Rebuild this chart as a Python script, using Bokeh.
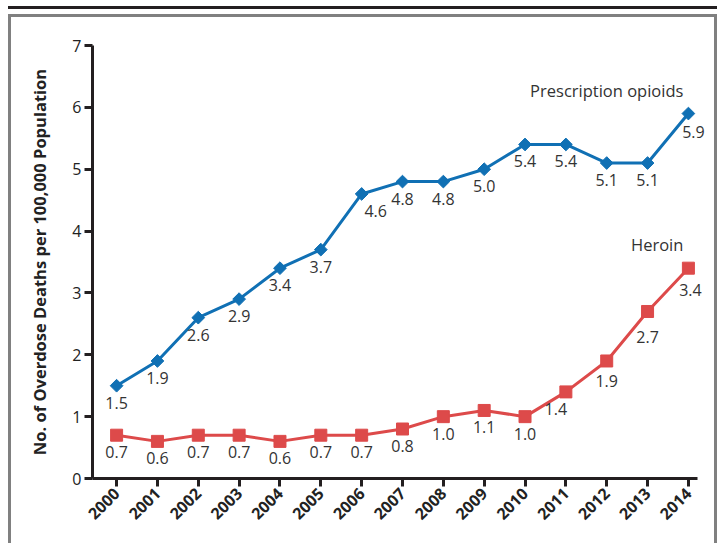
import math
from bokeh.plotting import figure
from bokeh.layouts import column
from bokeh.models import ColumnDataSource, FixedTicker, Label, LabelSet, Range1d
from bokeh.embed import file_html
from bokeh.resources import INLINE
from bokeh.core.properties import value

years = list(range(2000, 2015))
rx_opioids = [1.5, 1.9, 2.6, 2.9, 3.4, 3.7, 4.6, 4.8, 4.8, 5.0, 5.4, 5.4, 5.1, 5.1, 5.9]
heroin = [0.7, 0.6, 0.7, 0.7, 0.6, 0.7, 0.7, 0.8, 1.0, 1.1, 1.0, 1.4, 1.9, 2.7, 3.4]
y_ticks = [0, 1, 2, 3, 4, 5, 6, 7]

BLUE = "#1070b4"
RED = "#dd4a4a"
TXT = "#333333"
FONT = "Open Sans"

# small nudges (screen px) for value labels that would sit on a line: {year: (dx, extra_dy)}
rx_nudge = {2006: (14, 0), 2014: (5, 1)}
h_nudge = {2011: (-10, 0), 2012: (0, 3), 2013: (0, 9), 2014: (2, 5)}

W, H = 703, 526
p = figure(width=W, height=H, output_backend="svg", toolbar_location=None,
           x_range=Range1d(1999.41, 2014.59), y_range=Range1d(0, 7),
           min_border_left=81, min_border_right=2, min_border_top=28, min_border_bottom=65)
p.background_fill_color = "white"
p.border_fill_color = "white"
p.outline_line_color = None
p.grid.visible = False


def make_src(vals, nudge):
    return ColumnDataSource(dict(
        x=years, y=vals, t=[f"{v:.1f}" for v in vals],
        dx=[nudge.get(yr, (0, 0))[0] for yr in years],
        dy=[-17 - nudge.get(yr, (0, 0))[1] for yr in years]))


src_rx = make_src(rx_opioids, rx_nudge)
src_h = make_src(heroin, h_nudge)

p.line("x", "y", source=src_rx, line_color=BLUE, line_width=3)
p.scatter("x", "y", source=src_rx, marker="square", angle=math.pi / 4, size=9,
          fill_color=BLUE, line_color=BLUE)
p.line("x", "y", source=src_h, line_color=RED, line_width=3)
p.scatter("x", "y", source=src_h, marker="square", size=12, fill_color=RED, line_color=RED)

for src in (src_rx, src_h):
    p.add_layout(LabelSet(x="x", y="y", text="t", source=src, x_offset="dx", y_offset="dy",
                          text_align="center", text_baseline="middle", text_font=value(FONT),
                          text_font_size="16px", text_color=TXT))

p.add_layout(Label(x=2014, y=6.27, x_offset=-5, text="Prescription opioids", text_align="right",
                   text_baseline="middle", text_font=FONT, text_font_size="16.5px", text_color=TXT))
p.add_layout(Label(x=2014, y=3.78, x_offset=-5, text="Heroin", text_align="right",
                   text_baseline="middle", text_font=FONT, text_font_size="16.5px", text_color=TXT))

# axes
for ax in (p.xaxis[0], p.yaxis[0]):
    ax.axis_line_color = "#231f20"
    ax.axis_line_width = 3
    ax.major_tick_line_color = "#231f20"
    ax.major_tick_line_width = 3
    ax.major_tick_out = 8
    ax.major_tick_in = 0
    ax.minor_tick_line_color = None
    ax.major_label_text_font = FONT
    ax.major_label_text_color = "#222222"

p.yaxis.ticker = FixedTicker(ticks=y_ticks)
p.yaxis.major_label_text_font_size = "16px"
p.yaxis.major_label_standoff = 3
p.yaxis.axis_label = "No. of Overdose Deaths per 100,000 Population"
p.yaxis.axis_label_text_font = FONT
p.yaxis.axis_label_text_font_style = "bold"
p.yaxis.axis_label_text_font_size = "16.5px"
p.yaxis.axis_label_text_color = "#222222"
p.yaxis.axis_label_standoff = 18

p.xaxis.ticker = FixedTicker(ticks=years)
p.xaxis.bounds = (1999.41, 2014.22)
p.xaxis.major_label_text_font_size = "16px"
p.xaxis.major_label_text_font_style = "bold"
p.xaxis.major_label_orientation = math.pi / 4
p.xaxis.major_label_standoff = 4

# decorative frame: gray box round the figure, black rule above it
inner = column(p, styles={"border-left": "3px solid #808080",
                          "border-top": "3px solid #808080",
                          "border-right": "3px solid #808080"})
outer = column(inner, styles={"margin-left": "8px", "margin-top": "6px",
                              "border-top": "3px solid #231f20",
                              "padding-top": "5px"})

open("out.html", "w").write(file_html(outer, INLINE))
